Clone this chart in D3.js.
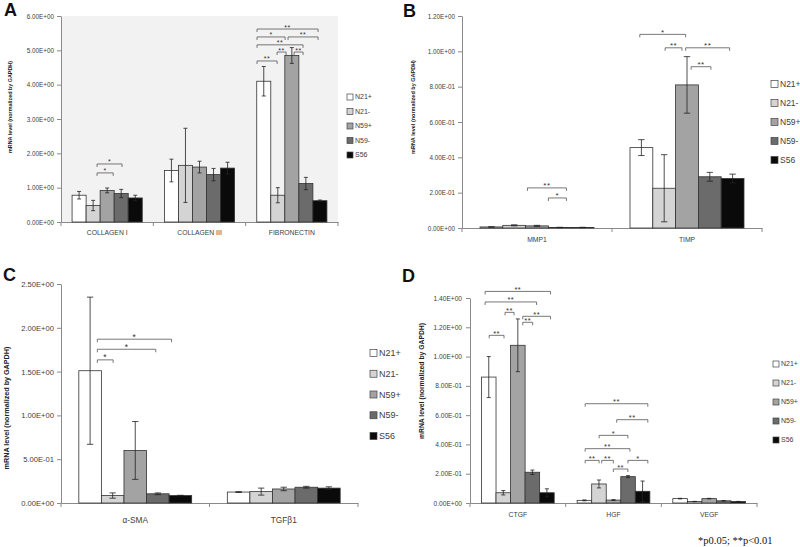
<!DOCTYPE html>
<html><head><meta charset="utf-8">
<script src="https://cdn.jsdelivr.net/npm/d3@7"></script>
<style>
body{margin:0;background:#fff}
svg{display:block}
</style>
</head><body>
<svg id="chart" width="800" height="547" font-family="Liberation Sans, Arial, sans-serif"></svg>
<script>
// ---------- DATA ----------
const seriesNames = ["N21+","N21-","N59+","N59-","S56"];
const seriesColors = ["#ffffff","#d4d4d4","#a3a3a3","#6b6b6b","#0a0a0a"];

// Panel A
const catsA = ["COLLAGEN I","COLLAGEN III","FIBRONECTIN"];
const valsA = [[0.78,0.48,0.92,0.83,0.70],[1.50,1.65,1.60,1.38,1.57],[4.10,0.78,4.85,1.12,0.62]];
const errA  = [[0.11,0.15,0.07,0.12,0.08],[0.33,1.08,0.17,0.18,0.17],[0.43,0.22,0.23,0.18,0.02]];
const ticksA = [0,1,2,3,4,5,6];
// [category, from (bar units), to (bar units), level, label]
const sigA = [
  [0,1.78,2.93,1.43,"*"],[0,1.78,3.56,1.69,"*"],
  [2,0.02,1.45,4.69,"**"],[2,1.45,2.09,4.95,"**"],[2,2.66,3.30,4.95,"**"],
  [2,0.02,3.30,5.16,"**"],[2,0.02,2.02,5.39,"*"],[2,2.23,4.37,5.39,"**"],
  [2,0.02,4.37,5.62,"**"]
];

// Panel B
const catsB = ["MMP1","TIMP"];
const valsB = [[0.006,0.015,0.012,0.003,0.003],[0.455,0.225,0.81,0.29,0.28]];
const errB  = [[0.001,0.003,0.003,0.001,0.001],[0.045,0.19,0.16,0.025,0.025]];
const ticksB = [0,0.2,0.4,0.6,0.8,1.0,1.2];
const sigB = [
  [0,2.08,3.79,0.227,"**"],[0,3.0,3.79,0.17,"*"],
  [1,0.43,2.44,1.096,"*"],[1,1.54,2.28,1.02,"**"],[1,2.44,4.37,1.02,"**"],
  [1,2.68,3.55,0.913,"**"]
];

// Panel C
const catsC = ["α-SMA","TGFβ1"];
const valsC = [[1.51,0.085,0.60,0.105,0.085],[0.125,0.13,0.16,0.18,0.17]];
const errC  = [[0.84,0.03,0.33,0.01,0.003],[0.005,0.04,0.02,0.01,0.015]];
const ticksC = [0,0.5,1.0,1.5,2.0,2.5];
const sigC = [[0,0.82,1.52,1.634,"*"],[0,0.82,3.41,1.755,"*"],[0,0.82,4.11,1.87,"*"]];

// Panel D
const catsD = ["CTGF","HGF","VEGF"];
const valsD = [[0.86,0.07,1.077,0.21,0.07],[0.018,0.13,0.02,0.18,0.08],[0.03,0.01,0.03,0.015,0.01]];
const errD  = [[0.14,0.015,0.18,0.015,0.027],[0.003,0.027,0.003,0.007,0.07],[0.002,0.001,0.002,0.001,0.001]];
const ticksD = [0,0.2,0.4,0.6,0.8,1.0,1.2,1.4];
const sigD = [
  [0,0.25,4.75,1.445,"**"],[0,0.25,3.79,1.373,"**"],[0,1.62,2.24,1.302,"**"],
  [0,2.84,4.75,1.275,"**"],[0,2.84,3.52,1.234,"**"],[0,0.53,1.55,1.145,"**"],
  [1,0.55,4.86,0.678,"**"],[1,2.72,4.86,0.569,"**"],[1,1.51,3.49,0.462,"*"],
  [1,0.55,3.63,0.371,"**"],[1,0.55,1.51,0.291,"**"],[1,1.69,2.49,0.291,"**"],
  [1,3.49,4.86,0.291,"*"],[1,2.49,3.49,0.232,"**"]
];

const yTitle = "mRNA level (normalized by GAPDH)";
const footnote = "*p0.05; **p<0.01";

// ---------- DRAW ----------
const svg = d3.select("#chart");
const textColor = "#404040";
const axisColor = "#8a8a8a";
const sans = "Liberation Sans, Arial, sans-serif";

function fmtE(v){
  if (v === 0) return "0.00E+00";
  const e = Math.floor(Math.log10(v) + 1e-9);
  const m = v / Math.pow(10, e);
  return m.toFixed(2) + "E" + (e < 0 ? "-" : "+") + String(Math.abs(e)).padStart(2, "0");
}

function drawPanel(cfg, cats, vals, errs, ticks, sigs){
  const g = svg.append("g");
  const y = d3.scaleLinear().domain([0, ticks[ticks.length-1]]).range([cfg.bottom, cfg.top]);
  const x = d3.scaleBand().domain(cats).range([cfg.left, cfg.right]).padding(0);
  const groupW = x.bandwidth() * 0.76;
  const pad = (x.bandwidth() - groupW) / 2;
  const x1 = d3.scaleBand().domain(d3.range(seriesNames.length)).range([0, groupW]).padding(0);
  const bw = x1.bandwidth();
  const px = (ci, p) => x(cats[ci]) + pad + p * bw;

  if (cfg.bg) {
    g.append("rect").attr("x", cfg.left).attr("y", cfg.top)
      .attr("width", cfg.right - cfg.left).attr("height", cfg.bottom - cfg.top)
      .attr("fill", cfg.bg);
  }

  // y axis
  const ya = g.append("g").attr("transform", `translate(${cfg.left},0)`)
    .call(d3.axisLeft(y).tickValues(ticks).tickFormat(fmtE).tickSizeInner(4).tickSizeOuter(0).tickPadding(cfg.tickPad));
  ya.select(".domain").attr("stroke", axisColor);
  ya.selectAll(".tick line").attr("stroke", axisColor);
  ya.selectAll(".tick text").attr("fill", textColor).attr("font-size", cfg.tickFont)
    .attr("font-family", sans);

  // x axis
  const xa = g.append("g").attr("transform", `translate(0,${cfg.bottom})`)
    .call(d3.axisBottom(x).tickSize(0).tickPadding(cfg.catPad));
  xa.select(".domain").attr("stroke", axisColor);
  xa.selectAll(".tick text").attr("fill", textColor).attr("font-size", cfg.catFont)
    .attr("font-family", sans);
  const bounds = cats.map(c => x(c)).concat([cfg.right]);
  g.selectAll(".xb").data(bounds).join("line")
    .attr("x1", d => d).attr("x2", d => d)
    .attr("y1", cfg.bottom).attr("y2", cfg.bottom + 4)
    .attr("stroke", axisColor);

  // bars
  const barData = [];
  cats.forEach((c, ci) => vals[ci].forEach((v, si) => barData.push({ci, si, v, e: errs[ci][si]})));
  g.selectAll(".bar").data(barData).join("rect")
    .attr("x", d => x(cats[d.ci]) + pad + x1(d.si))
    .attr("y", d => y(d.v))
    .attr("width", bw)
    .attr("height", d => y(0) - y(d.v))
    .attr("fill", d => seriesColors[d.si])
    .attr("stroke", "#333").attr("stroke-width", 0.8);

  // error bars
  const cap = Math.max(2, bw * 0.14);
  const eb = g.selectAll(".eb").data(barData).join("g");
  eb.append("line")
    .attr("x1", d => px(d.ci, d.si + 0.5)).attr("x2", d => px(d.ci, d.si + 0.5))
    .attr("y1", d => y(Math.max(0, d.v - d.e))).attr("y2", d => y(d.v + d.e))
    .attr("stroke", "#222").attr("stroke-width", 0.8);
  [-1, 1].forEach(s => {
    eb.append("line")
      .attr("x1", d => px(d.ci, d.si + 0.5) - cap).attr("x2", d => px(d.ci, d.si + 0.5) + cap)
      .attr("y1", d => y(Math.max(0, d.v + s * d.e))).attr("y2", d => y(Math.max(0, d.v + s * d.e)))
      .attr("stroke", "#222").attr("stroke-width", 0.8);
  });

  // significance brackets
  const sg = g.selectAll(".sig").data(sigs).join("g");
  sg.append("path")
    .attr("d", d => {
      const xa1 = px(d[0], d[1]), xa2 = px(d[0], d[2]), yy = y(d[3]);
      return `M${xa1},${yy + 3}V${yy}H${xa2}V${yy + 3}`;
    })
    .attr("fill", "none").attr("stroke", "#555").attr("stroke-width", 0.8);
  sg.append("text")
    .attr("x", d => (px(d[0], d[1]) + px(d[0], d[2])) / 2)
    .attr("y", d => y(d[3]) + 0.5)
    .attr("text-anchor", "middle")
    .attr("font-size", cfg.sigFont)
    .attr("letter-spacing", 0.5)
    .attr("fill", "#333")
    .text(d => d[4]);

  // legend
  const lg = g.selectAll(".leg").data(seriesNames).join("g")
    .attr("transform", (d, i) => `translate(${cfg.legX},${cfg.legY + i * cfg.legStep})`);
  lg.append("rect").attr("x", 0).attr("y", -cfg.legBox / 2)
    .attr("width", cfg.legBox).attr("height", cfg.legBox)
    .attr("fill", (d, i) => seriesColors[i]).attr("stroke", "#444").attr("stroke-width", 0.7);
  lg.append("text").attr("x", cfg.legBox + 2).attr("y", 0).attr("dy", "0.35em")
    .attr("font-size", cfg.legFont).attr("fill", textColor).text(d => d);

  // y title
  g.append("text")
    .attr("transform", `translate(${cfg.ylabX},${cfg.ylabY}) rotate(-90)`)
    .attr("text-anchor", "middle").attr("dy", "0.35em")
    .attr("font-size", cfg.ylabFont).attr("font-weight", "bold").attr("fill", "#222")
    .text(yTitle);

  // panel letter
  g.append("text").attr("x", cfg.letterX).attr("y", cfg.letterY)
    .attr("font-size", 18).attr("font-weight", "bold").attr("fill", "#111")
    .text(cfg.letter);
}

drawPanel({left:61,right:338,top:16,bottom:222,bg:"#f2f2f2",tickFont:6.3,tickPad:3,catFont:6.8,catPad:8,
  sigFont:7,legX:347,legY:97,legStep:14.5,legBox:6,legFont:7,ylabX:10,ylabY:107,ylabFont:5.4,
  letter:"A",letterX:4,letterY:16}, catsA, valsA, errA, ticksA, sigA);

drawPanel({left:462,right:762,top:16,bottom:228,bg:null,tickFont:6.3,tickPad:3,catFont:6.8,catPad:9,
  sigFont:8,legX:771,legY:84,legStep:19,legBox:7,legFont:8.5,ylabX:413,ylabY:107,ylabFont:5.5,
  letter:"B",letterX:403,letterY:17}, catsB, valsB, errB, ticksB, sigB);

drawPanel({left:61,right:358,top:284,bottom:503,bg:null,tickFont:7.6,tickPad:3,catFont:8.3,catPad:14,
  sigFont:8.5,legX:370,legY:353,legStep:20.75,legBox:7,legFont:9,ylabX:6,ylabY:408,ylabFont:7.2,
  letter:"C",letterX:3,letterY:281}, catsC, valsC, errC, ticksC, sigC);

drawPanel({left:470,right:757,top:298,bottom:503,bg:null,tickFont:6.6,tickPad:4,catFont:6.8,catPad:9,
  sigFont:7.5,legX:773,legY:364,legStep:19,legBox:6,legFont:7,ylabX:422,ylabY:381,ylabFont:6.8,
  letter:"D",letterX:402,letterY:282}, catsD, valsD, errD, ticksD, sigD);

svg.append("text").attr("x", 698).attr("y", 544)
  .attr("font-family", "Liberation Serif, Times New Roman, serif")
  .attr("font-size", 10.5).attr("fill", "#111").text(footnote);
</script>
</body></html>
